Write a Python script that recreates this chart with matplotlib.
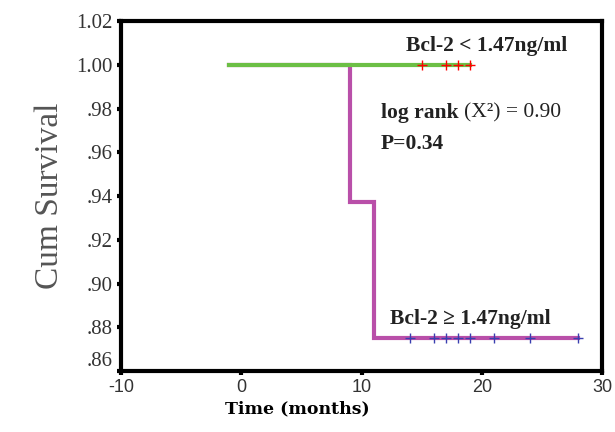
import matplotlib
matplotlib.use('Agg')
import matplotlib.pyplot as plt

# 存活曲線資料
low_t = [-1, 19]
low_s = [1.00, 1.00]
low_cens = [15, 17, 18, 19]

high_t = [-1, 9, 9, 11, 11, 28]
high_s = [1.00, 1.00, 0.9375, 0.9375, 0.875, 0.875]
high_cens = [14, 16, 17, 18, 19, 21, 24, 28]

yticks = [0.86, 0.88, 0.90, 0.92, 0.94, 0.96, 0.98, 1.00, 1.02]
ylabels = ['.86', '.88', '.90', '.92', '.94', '.96', '.98', '1.00', '1.02']
xticks = [-10, 0, 10, 20, 30]

fig = plt.figure(figsize=(6.15, 4.32), dpi=100)
ax = fig.add_axes([0.197, 0.141, 0.782, 0.810])

ax.plot(high_t, high_s, color='#b94fa9', lw=3, solid_joinstyle='miter')
ax.plot(low_t, low_s, color='#6cbf45', lw=3)
ax.plot(low_cens, [1.00] * len(low_cens), '+', color='red', ms=7, mew=1)
ax.plot(high_cens, [0.875] * len(high_cens), '+', color='#3a3fb0', ms=7, mew=1)

ax.set_xlim(-10, 30)
ax.set_ylim(0.86, 1.02)
ax.set_xticks(xticks)
ax.set_xticklabels([str(x) for x in xticks], family='Liberation Sans', fontsize=13, color='#333333')
ax.set_yticks(yticks)
ax.set_yticklabels(ylabels, family='Liberation Serif', fontsize=15, color='#333333')
ax.get_yticklabels()[0].set_verticalalignment('bottom')
ax.tick_params(direction='out', length=3, width=3, pad=3)

for s in ax.spines.values():
    s.set_linewidth(3)

ax.set_ylabel('Cum Survival', family='Liberation Serif', fontsize=24, color='#555555', labelpad=8)
ax.set_xlabel('Time (months)', family='DejaVu Serif', fontweight='bold', fontsize=12.5, labelpad=4)
ax.xaxis.set_label_coords(0.366, -0.085)

tf = dict(family='Liberation Serif', fontweight='bold', fontsize=15.5, color='#222222')
ax.text(13.7, 1.0085, 'Bcl-2 < 1.47ng/ml', va='center', **tf)
t1 = ax.text(11.6, 0.978, 'log rank ', va='center', **tf)
ax.annotate('(X\u00b2) = 0.90', xycoords=t1, xy=(1, 0.5), va='center',
            family='Liberation Serif', fontsize=15.5, color='#222222')
ax.text(11.6, 0.964, 'P=0.34', va='center', **tf)
ax.text(12.4, 0.884, 'Bcl-2 \u2265 1.47ng/ml', va='center', **tf)

fig.savefig('out.png', dpi=100)
